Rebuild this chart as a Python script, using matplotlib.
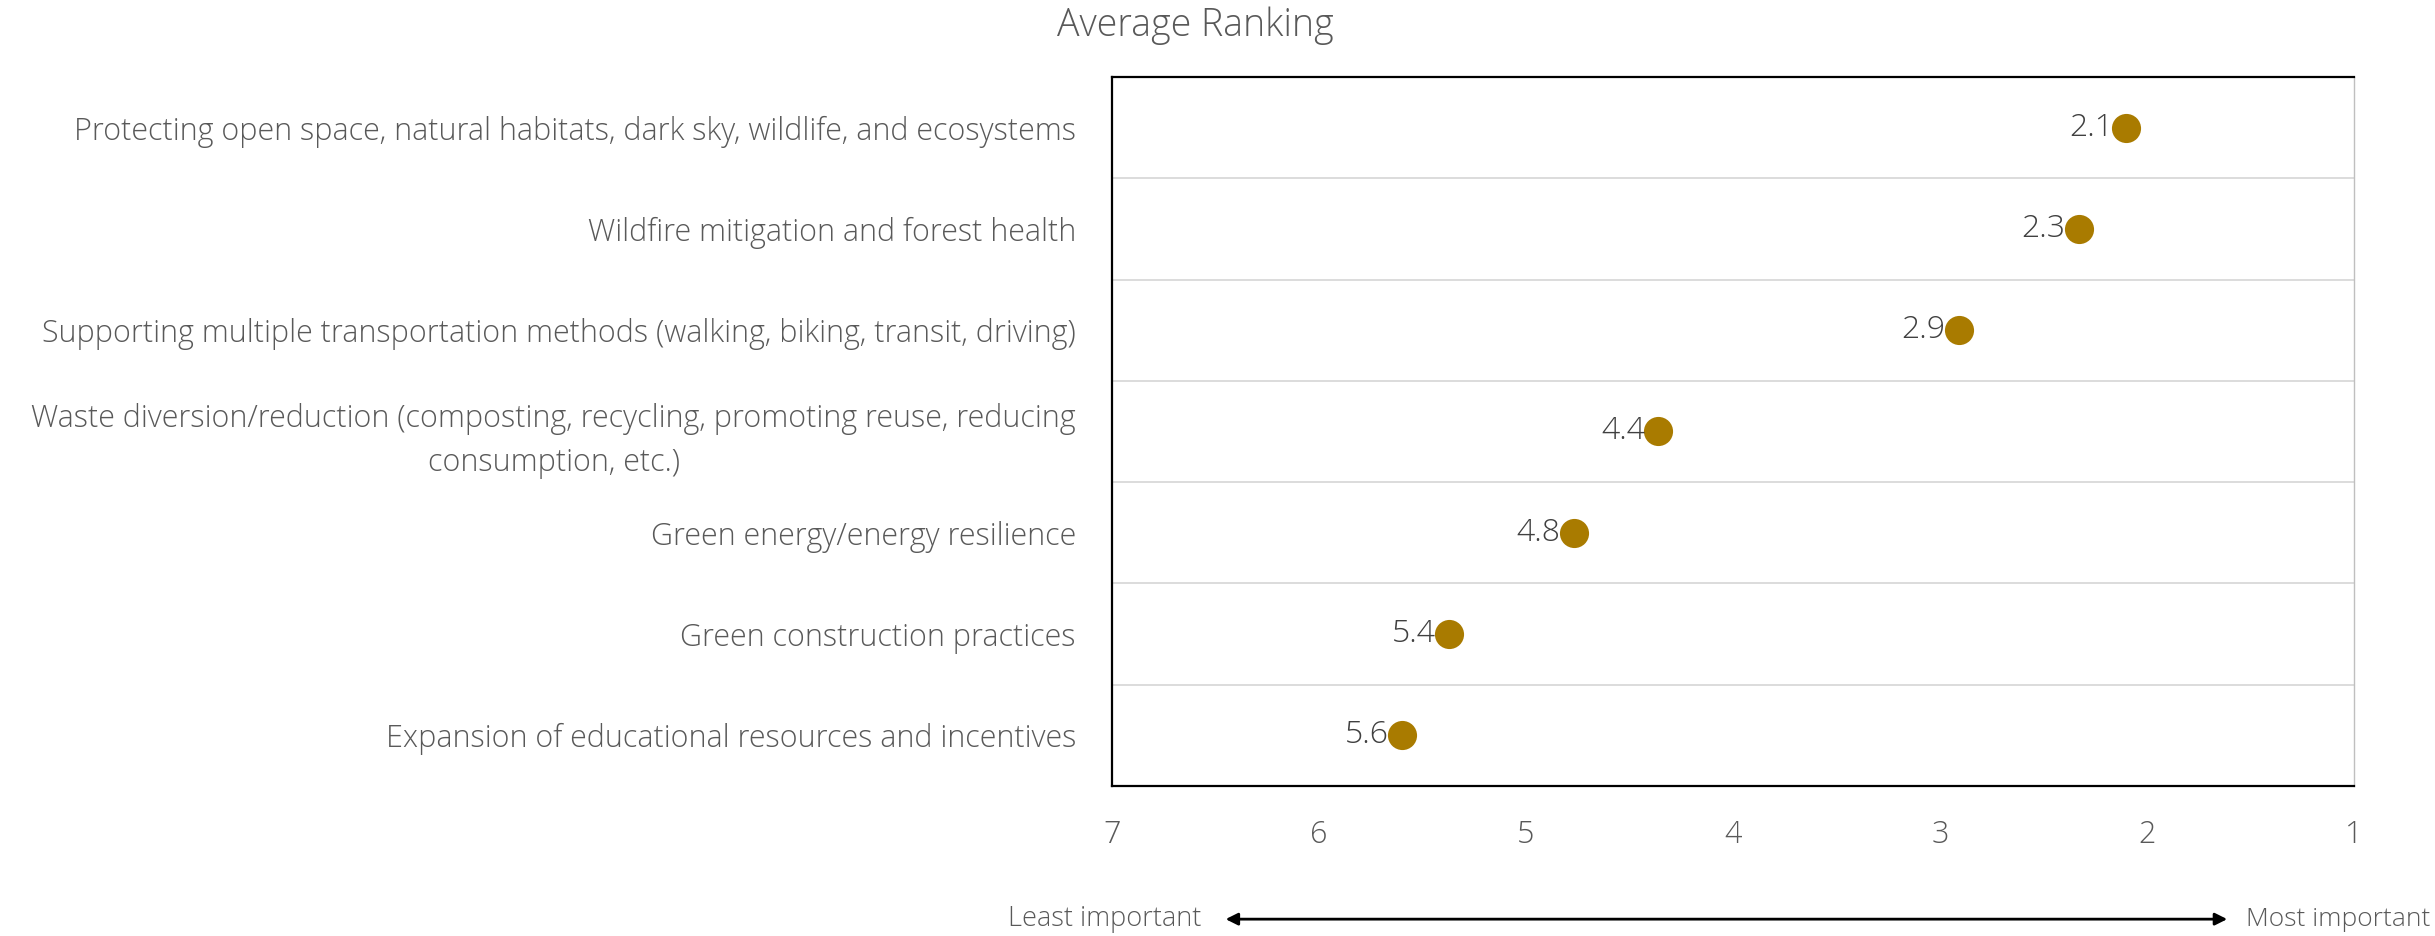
import matplotlib
matplotlib.use("Agg")
import matplotlib.pyplot as plt
from matplotlib import font_manager

categories = [
    "Protecting open space, natural habitats, dark sky, wildlife, and ecosystems",
    "Wildfire mitigation and forest health",
    "Supporting multiple transportation methods (walking, biking, transit, driving)",
    "Waste diversion/reduction (composting, recycling, promoting reuse, reducing\nconsumption, etc.)",
    "Green energy/energy resilience",
    "Green construction practices",
    "Expansion of educational resources and incentives",
]
avg_rank = [2.1, 2.33, 2.91, 4.36, 4.77, 5.37, 5.6]
x_ticks = [7, 6, 5, 4, 3, 2, 1]

families = {f.name for f in font_manager.fontManager.ttflist}
FONT = "Open Sans" if "Open Sans" in families else "DejaVu Sans"
plt.rcParams["font.family"] = [FONT, "DejaVu Sans"]
plt.rcParams["font.weight"] = "light"

DOT = "#A97B00"
TXT = "#595959"
VAL = "#404040"

fig = plt.figure(figsize=(24.35, 9.36), dpi=100)
ax = fig.add_axes([0.4567, 0.1603, 0.51, 0.7574])

n = len(categories)
ypos = list(range(n))
ax.scatter(avg_rank, ypos, s=440, color=DOT, zorder=3, linewidths=0)
for v, y in zip(avg_rank, ypos):
    ax.annotate(f"{v:.1f}", (v, y), xytext=(-9.5, 0), textcoords="offset points",
                ha="right", va="center", fontsize=23, color=VAL, fontweight="light")

ax.set_xlim(7, 1)
ax.set_ylim(n - 0.5, -0.5)
ax.set_xticks(x_ticks)
ax.set_xticklabels([str(t) for t in x_ticks], fontsize=22, color=TXT)
ax.set_yticks(ypos)
ax.set_yticklabels(categories, fontsize=22, color=TXT, multialignment="center",
                   linespacing=1.5)
ax.tick_params(axis="x", length=0, pad=24)
ax.tick_params(axis="y", length=0, pad=26)

for b in [i + 0.5 for i in range(n - 1)]:
    ax.axhline(b, color="#D9D9D9", linewidth=1.3, zorder=1)

for side in ("left", "top", "bottom"):
    ax.spines[side].set_color("black")
    ax.spines[side].set_linewidth(1.6)
ax.spines["right"].set_color("#BFBFBF")
ax.spines["right"].set_linewidth(1.0)

fig.text(0.491, 0.972, "Average Ranking", ha="center", va="center",
         fontsize=27, color=TXT, fontweight="light")

ay = 0.018
fig.text(0.4935, ay, "Least important", ha="right", va="center",
         fontsize=19.5, color=TXT, fontweight="light")
fig.text(0.9225, ay, "Most important", ha="left", va="center",
         fontsize=19, color=TXT, fontweight="light")
fig.patches.append(matplotlib.patches.FancyArrowPatch(
    (0.5022, ay), (0.9158, ay), transform=fig.transFigure,
    arrowstyle="<|-|>", mutation_scale=18, color="black", linewidth=2))

fig.savefig("out.png", dpi=100, facecolor="white")
